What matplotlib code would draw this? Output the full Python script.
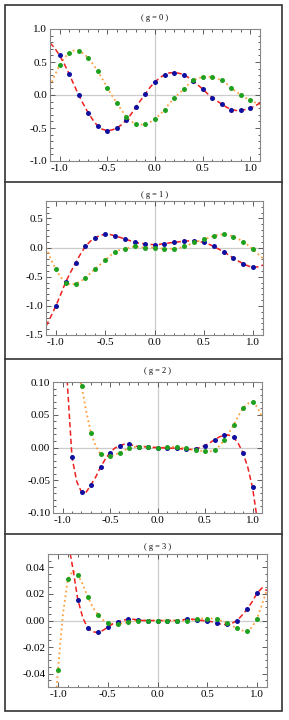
import matplotlib
matplotlib.use('Agg')
import matplotlib.pyplot as plt
from matplotlib.patches import Rectangle
from matplotlib.lines import Line2D
from matplotlib.ticker import MultipleLocator, FormatStrFormatter

plt.rcParams['font.family'] = ['Liberation Serif', 'DejaVu Serif']
plt.rcParams['axes.unicode_minus'] = True

# sample points (dots) at x = -1.0 ... 1.0 step 0.1
xs = [-1.0, -0.9, -0.8, -0.7, -0.6, -0.5, -0.4, -0.3, -0.2, -0.1, 0.0,
      0.1, 0.2, 0.3, 0.4, 0.5, 0.6, 0.7, 0.8, 0.9, 1.0]

# curve sample positions x = -1.1 ... 1.1 step 0.05
xc = [-1.1, -1.05, -1.0, -0.95, -0.9, -0.85, -0.8, -0.75, -0.7, -0.65, -0.6,
      -0.55, -0.5, -0.45, -0.4, -0.35, -0.3, -0.25, -0.2, -0.15, -0.1, -0.05,
      0.0, 0.05, 0.1, 0.15, 0.2, 0.25, 0.3, 0.35, 0.4, 0.45, 0.5, 0.55, 0.6,
      0.65, 0.7, 0.75, 0.8, 0.85, 0.9, 0.95, 1.0, 1.05, 1.1]

# g = 0
blue0 = [0.60, 0.32, 0.0, -0.27, -0.47, -0.54, -0.50, -0.38, -0.18, 0.02, 0.20,
         0.31, 0.34, 0.31, 0.21, 0.09, -0.04, -0.14, -0.22, -0.23, -0.20]
green0 = [0.45, 0.64, 0.67, 0.56, 0.36, 0.11, -0.12, -0.33, -0.44, -0.44, -0.36,
          -0.22, -0.05, 0.09, 0.22, 0.27, 0.27, 0.22, 0.11, 0.0, -0.08]
red0 = [0.79, 0.71, 0.60, 0.47, 0.32, 0.16, 0.0, -0.14, -0.27, -0.38, -0.47,
        -0.52, -0.54, -0.53, -0.50, -0.45, -0.38, -0.29, -0.18, -0.08, 0.02, 0.12,
        0.20, 0.26, 0.31, 0.335, 0.34, 0.33, 0.31, 0.265, 0.21, 0.15, 0.09, 0.02, -0.04,
        -0.09, -0.14, -0.185, -0.22, -0.235, -0.23, -0.22, -0.20, -0.165, -0.12]
orange0 = [0.13, 0.30, 0.45, 0.56, 0.64, 0.675, 0.67, 0.63, 0.56, 0.47, 0.36,
           0.24, 0.11, -0.01, -0.12, -0.23, -0.33, -0.40, -0.44, -0.45, -0.44, -0.41,
           -0.36, -0.30, -0.22, -0.13, -0.05, 0.02, 0.09, 0.16, 0.22, 0.255, 0.27, 0.28, 0.27,
           0.25, 0.22, 0.17, 0.11, 0.05, 0.0, -0.045, -0.08, -0.115, -0.14]

# g = 1
blue1 = [-1.0, -0.59, -0.26, 0.02, 0.17, 0.23, 0.20, 0.15, 0.09, 0.07, 0.05,
         0.07, 0.09, 0.11, 0.11, 0.09, 0.02, -0.07, -0.18, -0.28, -0.34]
green1 = [-0.375, -0.60, -0.62, -0.52, -0.36, -0.22, -0.07, -0.02, 0.02, 0.0, 0.0,
          -0.02, -0.02, 0.02, 0.09, 0.14, 0.20, 0.23, 0.19, 0.10, -0.03]
red1 = [-1.35, -1.18, -1.0, -0.80, -0.59, -0.42, -0.26, -0.11, 0.02, 0.11, 0.17,
        0.21, 0.23, 0.225, 0.20, 0.175, 0.15, 0.12, 0.09, 0.075, 0.065, 0.055,
        0.05, 0.055, 0.07, 0.08, 0.09, 0.10, 0.11, 0.115, 0.11, 0.105, 0.09, 0.06, 0.02,
        -0.025, -0.07, -0.125, -0.18, -0.23, -0.28, -0.315, -0.34, -0.33, -0.30]
orange1 = [0.0, -0.20, -0.375, -0.51, -0.60, -0.635, -0.62, -0.58, -0.52, -0.44, -0.36,
           -0.29, -0.22, -0.14, -0.07, -0.04, -0.02, 0.0, 0.02, 0.01, 0.0, 0.0,
           0.0, -0.01, -0.02, -0.02, -0.02, -0.005, 0.02, 0.05, 0.09, 0.115, 0.14, 0.17, 0.20,
           0.22, 0.23, 0.215, 0.19, 0.15, 0.10, 0.04, -0.03, -0.11, -0.19]

# g = 2
blue2 = [0.22, -0.015, -0.068, -0.057, -0.030, -0.008, 0.003, 0.005, 0.001, 0.001, 0.0,
         -0.001, -0.001, -0.003, -0.002, 0.003, 0.012, 0.019, 0.016, -0.008, -0.061]
green2 = [0.28, 0.15, 0.094, 0.022, -0.010, -0.013, -0.008, -0.0015, 0.0015, 0.0015, 0.0,
          0.0005, 0.0015, -0.0015, -0.004, -0.006, -0.004, 0.011, 0.034, 0.060, 0.069]
red2 = [0.50, 0.35, 0.22, 0.10, -0.015, -0.052, -0.068, -0.068, -0.057, -0.045, -0.030,
        -0.018, -0.008, -0.001, 0.003, 0.005, 0.005, 0.003, 0.001, 0.001, 0.001, 0.0,
        0.0, -0.0005, -0.001, -0.001, -0.001, -0.002, -0.003, -0.003, -0.002, 0.0, 0.003, 0.007, 0.012,
        0.016, 0.019, 0.019, 0.016, 0.006, -0.008, -0.030, -0.061, -0.11, -0.20]
orange2 = [0.60, 0.40, 0.28, 0.20, 0.15, 0.12, 0.094, 0.055, 0.022, 0.002, -0.010,
           -0.013, -0.013, -0.011, -0.008, -0.004, -0.0015, 0.0005, 0.0015, 0.0015, 0.0015, 0.0005,
           0.0, 0.0, 0.0005, 0.001, 0.0015, 0.0, -0.0015, -0.003, -0.004, -0.005, -0.006, -0.006, -0.004,
           0.002, 0.011, 0.022, 0.034, 0.048, 0.060, 0.067, 0.069, 0.062, 0.046]

# g = 3
blue3 = [0.095, 0.06, 0.0155, -0.006, -0.009, -0.005, -0.001, 0.001, 0.0005, 0.0, 0.0,
         0.0, 0.0, 0.001, 0.0005, -0.0003, -0.002, -0.003, 0.0, 0.0085, 0.0205]
green3 = [-0.037, 0.031, 0.0345, 0.0175, 0.0045, -0.002, -0.003, -0.001, 0.0, 0.0, 0.0,
          0.0, 0.0, 0.0, 0.001, 0.0015, 0.001, -0.002, -0.006, -0.008, 0.0015]
red3 = [0.15, 0.12, 0.095, 0.075, 0.06, 0.039, 0.0155, 0.002, -0.006, -0.0085, -0.009,
        -0.0075, -0.005, -0.0025, -0.001, 0.0, 0.001, 0.001, 0.0005, 0.0, 0.0, 0.0,
        0.0, 0.0, 0.0, 0.0, 0.0, 0.0005, 0.001, 0.001, 0.0005, 0.0, -0.0003, -0.001, -0.002,
        -0.003, -0.003, -0.002, 0.0, 0.004, 0.0085, 0.014, 0.0205, 0.0245, 0.0225]
orange3 = [-0.15, -0.09, -0.037, 0.005, 0.031, 0.0375, 0.0345, 0.027, 0.0175, 0.010, 0.0045,
           0.0005, -0.002, -0.003, -0.003, -0.002, -0.001, -0.0003, 0.0, 0.0, 0.0, 0.0,
           0.0, 0.0, 0.0, 0.0, 0.0, 0.0, 0.0, 0.0005, 0.001, 0.0015, 0.0015, 0.0015, 0.001,
           -0.0005, -0.002, -0.004, -0.006, -0.0075, -0.008, -0.005, 0.0015, 0.012, 0.0235]

titles = ['( g = 0 )', '( g = 1 )', '( g = 2 )', '( g = 3 )']

W, H = 289, 720
fig = plt.figure(figsize=(W / 100, H / 100), dpi=100)

# axes boxes in pixels: left, right, top, bottom
boxes = [(50, 260, 29, 161), (46, 263, 201, 335), (53, 262, 382, 513), (48, 267, 554, 687)]
title_y = [18, 195, 371, 547]
ylims = [(-1, 1), (-1.5, 0.8), (-0.1, 0.1), (-0.05, 0.05)]
ymajor = [0.5, 0.5, 0.05, 0.02]
yminor = [0.1, 0.1, 0.01, 0.005]
yfmt = ['%.1f', '%.1f', '%.2f', '%.2f']
panels = [(blue0, green0, red0, orange0), (blue1, green1, red1, orange1),
          (blue2, green2, red2, orange2), (blue3, green3, red3, orange3)]

for i in range(4):
    l, r, t, b = boxes[i]
    ax = fig.add_axes([l / W, 1 - b / H, (r - l) / W, (b - t) / H])
    blue, green, red, orange = panels[i]
    ax.axhline(0, color='#cccccc', lw=0.9, zorder=0)
    ax.axvline(0, color='#cccccc', lw=0.9, zorder=0)
    ax.plot(xc, orange, ':', color='#ffa040', lw=1.3, zorder=2)
    ax.plot(xc, red, '--', color='#ee2020', lw=1.1, dashes=(3.5, 2), zorder=2)
    ax.plot(xs, blue, 'o', color='#1010a0', ms=3.6, mew=0, zorder=3)
    ax.plot(xs, green, 'o', color='#20a020', ms=3.6, mew=0, zorder=4)
    ax.set_xlim(-1.1, 1.1)
    ax.set_ylim(*ylims[i])
    ax.xaxis.set_major_locator(MultipleLocator(0.5))
    ax.xaxis.set_minor_locator(MultipleLocator(0.1))
    ax.yaxis.set_major_locator(MultipleLocator(ymajor[i]))
    ax.yaxis.set_minor_locator(MultipleLocator(yminor[i]))
    ax.xaxis.set_major_formatter(FormatStrFormatter('%.1f'))
    ax.yaxis.set_major_formatter(FormatStrFormatter(yfmt[i]))
    ax.tick_params(which='both', direction='in', top=True, right=True,
                   labelsize=8, pad=2, color='#444444', width=0.6)
    ax.tick_params(which='major', length=3.5)
    ax.tick_params(which='minor', length=1.8)
    for s in ax.spines.values():
        s.set_color('#888888')
        s.set_linewidth(0.8)
    fig.text((l + r) / 2 / W, 1 - title_y[i] / H, titles[i], ha='center', va='center',
             fontsize=6)

# outer frame and separators
fig.patches.append(Rectangle((5 / W, 1 - 711 / H), 277 / W, 706 / H, transform=fig.transFigure,
                             fill=False, edgecolor='#333333', lw=1.2))
for yy in [182, 359, 534]:
    fig.lines.append(Line2D([5 / W, 282 / W], [1 - yy / H, 1 - yy / H], transform=fig.transFigure,
                            color='#333333', lw=1.2))

fig.savefig('out.png', dpi=100)
